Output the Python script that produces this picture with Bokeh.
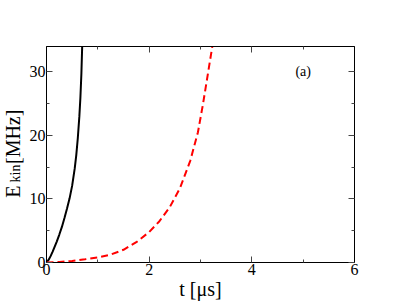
from bokeh.plotting import figure
from bokeh.layouts import row
from bokeh.models import Range1d, LinearAxis, Label, CustomJSTickFormatter, FixedTicker
from bokeh.embed import file_html
from bokeh.resources import INLINE
import math

# ---- data ----
t_black = [0, 0.04, 0.08, 0.12, 0.16, 0.2, 0.25, 0.3, 0.35, 0.4, 0.45, 0.5, 0.55, 0.58, 0.61, 0.64, 0.66, 0.68, 0.695]
E_black = [0, 0.4, 1.0, 1.7, 2.5, 3.3, 4.4, 5.6, 7.0, 8.5, 10.1, 12.1, 14.8, 16.9, 19.6, 23.0, 25.9, 29.8, 34.0]

t_red = [0, 0.25, 0.5, 0.75, 1.0, 1.25, 1.5, 1.75, 2.0, 2.2, 2.4, 2.6, 2.8, 2.95, 3.05, 3.15, 3.23]
E_red = [0, 0.07, 0.25, 0.5, 0.8, 1.25, 2.0, 3.2, 4.8, 6.5, 8.7, 11.7, 16.0, 20.5, 25.0, 30.0, 34.0]

x_major = [0, 2, 4, 6]
x_minor = [1, 3, 5]
y_major = [0, 10, 20, 30]
y_minor = [5, 15, 25]
x_limits = (0, 6)
y_limits = (0, 34)

x_title = "t [μs]"
y_title_main = "E"
y_title_sub = "kin"
y_title_unit = "[MHz]"
panel_tag = "(a)"
panel_tag_pos = (5.0, 30.0)

FONT = "Liberation Serif"
LAB_W = 26

# ---- main plot ----
p = figure(frame_width=308, frame_height=216,
           x_range=Range1d(*x_limits), y_range=Range1d(*y_limits),
           output_backend="svg", toolbar_location=None,
           min_border_left=46 - LAB_W, min_border_top=46, min_border_right=20, min_border_bottom=0,
           x_axis_location=None, y_axis_location=None)
p.grid.visible = False
p.outline_line_color = "black"
p.outline_line_width = 1
p.background_fill_color = "white"
p.border_fill_color = "white"

blank = CustomJSTickFormatter(code="return ''")

def style(ax, labels=True):
    ax.axis_line_color = "black"
    ax.axis_line_width = 1
    ax.major_tick_in = 6
    ax.major_tick_out = 0
    ax.minor_tick_in = 3
    ax.minor_tick_out = 0
    ax.major_tick_line_color = "#444444"
    ax.minor_tick_line_color = "#444444"
    ax.major_label_text_font = FONT
    ax.major_label_text_font_size = "16px"
    ax.major_label_text_color = "black"
    ax.major_label_standoff = 1
    if not labels:
        ax.formatter = blank

xb = LinearAxis(ticker=FixedTicker(ticks=x_major, minor_ticks=x_minor))
style(xb)
xb.axis_label = x_title
xb.axis_label_text_font = FONT
xb.axis_label_text_font_size = "20px"
xb.axis_label_text_font_style = "normal"
xb.axis_label_text_color = "black"
xb.axis_label_standoff = 0
p.add_layout(xb, "below")

xt = LinearAxis(ticker=FixedTicker(ticks=x_major, minor_ticks=x_minor))
style(xt, labels=False)
p.add_layout(xt, "above")

yl = LinearAxis(ticker=FixedTicker(ticks=y_major, minor_ticks=y_minor))
style(yl)
p.add_layout(yl, "left")

yr = LinearAxis(ticker=FixedTicker(ticks=y_major, minor_ticks=y_minor))
style(yr, labels=False)
p.add_layout(yr, "right")

p.line(t_black, E_black, line_color="black", line_width=2)
p.line(t_red, E_red, line_color="red", line_width=2, line_dash="7 4")

p.add_layout(Label(x=panel_tag_pos[0], y=panel_tag_pos[1], text=panel_tag,
                   text_font=FONT, text_font_size="14px", text_align="center",
                   text_baseline="middle", text_color="black"))

# ---- narrow strip holding the rotated y-axis title (with subscript) ----
lab = figure(frame_width=LAB_W, frame_height=216,
             x_range=Range1d(0, LAB_W), y_range=Range1d(*y_limits),
             output_backend="svg", toolbar_location=None,
             min_border_left=0, min_border_right=0, min_border_top=46, min_border_bottom=0,
             x_axis_location=None, y_axis_location=None)
lab.grid.visible = False
lab.outline_line_color = None
lab.background_fill_color = "white"
lab.border_fill_color = "white"

rot = math.pi / 2
lab.add_layout(Label(x=12, y=10.2, text=y_title_main,
                     angle=rot, text_font=FONT, text_font_size="20px",
                     text_align="left", text_baseline="alphabetic", text_color="black"))
lab.add_layout(Label(x=15, y=12.6, text=y_title_sub,
                     angle=rot, text_font=FONT, text_font_size="14px",
                     text_align="left", text_baseline="alphabetic", text_color="black"))
lab.add_layout(Label(x=12, y=15.5, text=y_title_unit,
                     angle=rot, text_font=FONT, text_font_size="20px",
                     text_align="left", text_baseline="alphabetic", text_color="black"))

layout = row(lab, p, spacing=0)

open("out.html", "w").write(file_html(layout, INLINE))
